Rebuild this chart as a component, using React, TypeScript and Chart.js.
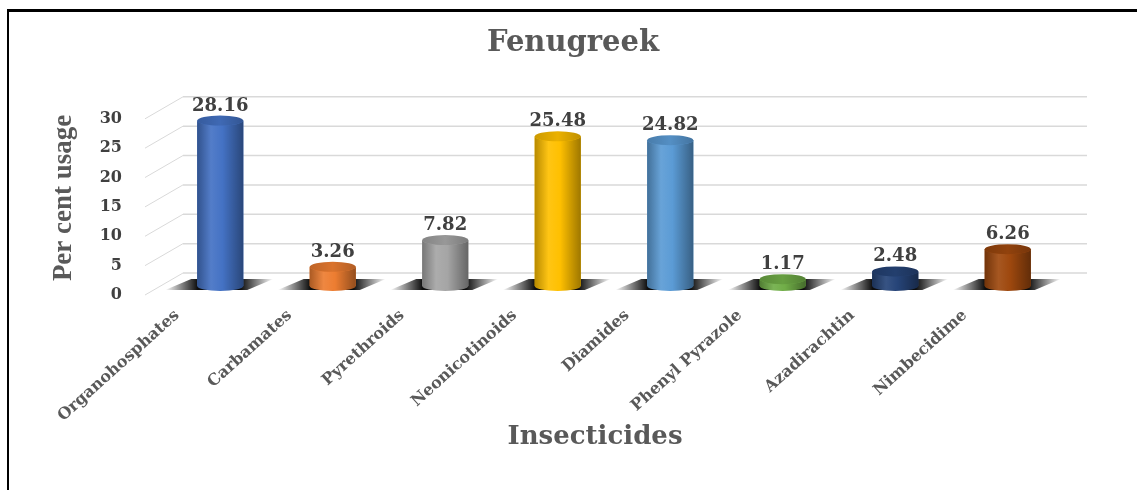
import React, { useEffect, useRef } from "react";
import { Chart, registerables } from "chart.js";

Chart.register(...registerables);

const categories = [
  "Organohosphates",
  "Carbamates",
  "Pyrethroids",
  "Neonicotinoids",
  "Diamides",
  "Phenyl Pyrazole",
  "Azadirachtin",
  "Nimbecidime",
];
const usage = [28.16, 3.26, 7.82, 25.48, 24.82, 1.17, 2.48, 6.26];
const barColors = ["#4472C4", "#ED7D31", "#A5A5A5", "#FFC000", "#5B9BD5", "#70AD47", "#264478", "#9E480E"];
const yTickValues = [0, 5, 10, 15, 20, 25, 30];
const chartTitle = "Fenugreek";
const yTitle = "Per cent usage";
const xTitle = "Insecticides";

function shade(hex: string, f: number): string {
  const n = parseInt(hex.slice(1), 16);
  let r = (n >> 16) & 255, g = (n >> 8) & 255, b = n & 255;
  if (f <= 1) {
    r *= f; g *= f; b *= f;
  } else {
    const t = f - 1;
    r += (255 - r) * t; g += (255 - g) * t; b += (255 - b) * t;
  }
  return `rgb(${Math.round(r)},${Math.round(g)},${Math.round(b)})`;
}

const decorPlugin = {
  id: "decor",
  beforeDatasetsDraw(chart: any) {
    const { ctx, chartArea } = chart;
    const yScale = chart.scales.y;
    ctx.save();
    yTickValues.forEach((v) => {
      const py = yScale.getPixelForValue(v);
      ctx.strokeStyle = "#d9d9d9";
      ctx.lineWidth = 1.5;
      ctx.beginPath();
      ctx.moveTo(chartArea.left + 19, py - 13);
      ctx.lineTo(chartArea.right + 23, py - 13);
      ctx.stroke();
      ctx.lineWidth = 1;
      ctx.beginPath();
      ctx.moveTo(chartArea.left - 19, py + 9);
      ctx.lineTo(chartArea.left + 19, py - 13);
      ctx.stroke();
    });
    const meta = chart.getDatasetMeta(0);
    meta.data.forEach((el: any) => {
      const { x, base, width } = el.getProps(["x", "base", "width"], true);
      const xl = x - width / 2, xr = x + width / 2;
      const g = ctx.createLinearGradient(xl - 32, 0, xr + 30, 0);
      g.addColorStop(0, "rgba(0,0,0,0)");
      g.addColorStop(0.3, "rgba(0,0,0,0.95)");
      g.addColorStop(0.7, "rgba(0,0,0,0.95)");
      g.addColorStop(1, "rgba(0,0,0,0)");
      ctx.fillStyle = g;
      ctx.beginPath();
      ctx.moveTo(xl - 32, base + 4);
      ctx.lineTo(xl - 6, base - 7);
      ctx.lineTo(xr + 30, base - 7);
      ctx.lineTo(xr + 4, base + 4);
      ctx.closePath();
      ctx.fill();
    });
    ctx.restore();
  },
  afterDatasetsDraw(chart: any) {
    const { ctx, chartArea } = chart;
    const meta = chart.getDatasetMeta(0);
    const data = chart.data.datasets[0].data as number[];
    ctx.save();
    meta.data.forEach((el: any, i: number) => {
      const { x, y, base, width } = el.getProps(["x", "y", "base", "width"], true);
      const c = barColors[i];
      const rx = width / 2, ry = 5;
      const g = ctx.createLinearGradient(x - rx, 0, x + rx, 0);
      g.addColorStop(0, shade(c, 0.72));
      g.addColorStop(0.3, shade(c, 1.08));
      g.addColorStop(0.55, c);
      g.addColorStop(1, shade(c, 0.62));
      ctx.fillStyle = g;
      ctx.beginPath();
      ctx.moveTo(x - rx, y);
      ctx.lineTo(x - rx, base);
      ctx.ellipse(x, base, rx, ry, 0, Math.PI, 0, true);
      ctx.lineTo(x + rx, y);
      ctx.ellipse(x, y, rx, ry, 0, 0, Math.PI, false);
      ctx.closePath();
      ctx.fill();
      const gt = ctx.createLinearGradient(x - rx, 0, x + rx, 0);
      gt.addColorStop(0, shade(c, 0.8));
      gt.addColorStop(0.5, shade(c, 0.92));
      gt.addColorStop(1, shade(c, 0.75));
      ctx.fillStyle = gt;
      ctx.beginPath();
      ctx.ellipse(x, y, rx, ry, 0, 0, Math.PI * 2);
      ctx.fill();
      ctx.fillStyle = "#404040";
      ctx.font = 'bold 18px "DejaVu Serif"';
      ctx.textAlign = "center";
      ctx.textBaseline = "alphabetic";
      ctx.fillText(data[i].toFixed(2), x, y - ry - 5);
    });
    ctx.fillStyle = "#595959";
    ctx.font = 'bold 26px "DejaVu Serif"';
    ctx.textAlign = "center";
    ctx.textBaseline = "middle";
    ctx.fillText(xTitle, (chartArea.left + chartArea.right) / 2 - 19, chartArea.bottom + 151);
    ctx.restore();
  },
};

export default function App() {
  const ref = useRef<HTMLCanvasElement | null>(null);
  useEffect(() => {
    document.documentElement.style.overflow = "hidden";
    if (!ref.current) return;
    const chart = new Chart(ref.current, {
      type: "bar",
      data: {
        labels: categories,
        datasets: [
          {
            label: "Per cent usage",
            data: usage,
            backgroundColor: barColors,
            barPercentage: 0.41,
            categoryPercentage: 1,
            yAxisID: "y",
          },
        ],
      },
      options: {
        responsive: false,
        animation: false,
        layout: { padding: { left: 0, right: 0, top: 0, bottom: 0 } },
        plugins: {
          legend: { display: false },
          tooltip: { enabled: false },
          title: {
            display: true,
            text: chartTitle,
            color: "#595959",
            font: { family: "DejaVu Serif", weight: "bold", size: 29 },
            padding: { top: 14, bottom: 49 },
          },
        },
        scales: {
          x: {
            grid: { display: false, drawTicks: false },
            border: { display: false },
            ticks: {
              autoSkip: false,
              minRotation: 42,
              maxRotation: 42,
              labelOffset: -43,
              padding: 20,
              color: "#595959",
              font: { family: "DejaVu Serif", weight: "bold", size: 16 },
            },
            afterFit: (s: any) => {
              s.height = 204;
            },
          },
          y: {
            min: 0,
            max: 30,
            grid: { display: false, drawTicks: false },
            border: { display: false },
            ticks: {
              stepSize: 5,
              labelOffset: 9,
              padding: 42,
              color: "#404040",
              font: { family: "DejaVu Serif", weight: "bold", size: 16 },
            },
            title: {
              display: true,
              text: yTitle,
              color: "#595959",
              font: { family: "Liberation Serif", weight: "bold", size: 27 },
              padding: { top: 39, bottom: 0 },
            },
            afterFit: (s: any) => {
              s.width = 155;
            },
          },
          yRight: {
            position: "right",
            display: true,
            grid: { display: false, drawTicks: false },
            border: { display: false },
            ticks: { display: false },
            afterFit: (s: any) => {
              s.width = 73;
            },
          },
        },
      },
      plugins: [decorPlugin],
    });
    return () => chart.destroy();
  }, []);
  return (
    <div
      style={{
        position: "absolute",
        left: 7,
        top: 9,
        width: 1130,
        height: 481,
        boxSizing: "border-box",
        borderTop: "3px solid #000",
        borderLeft: "2px solid #000",
        background: "#fff",
      }}
    >
      <canvas ref={ref} width={1128} height={478} style={{ display: "block" }} />
    </div>
  );
}
